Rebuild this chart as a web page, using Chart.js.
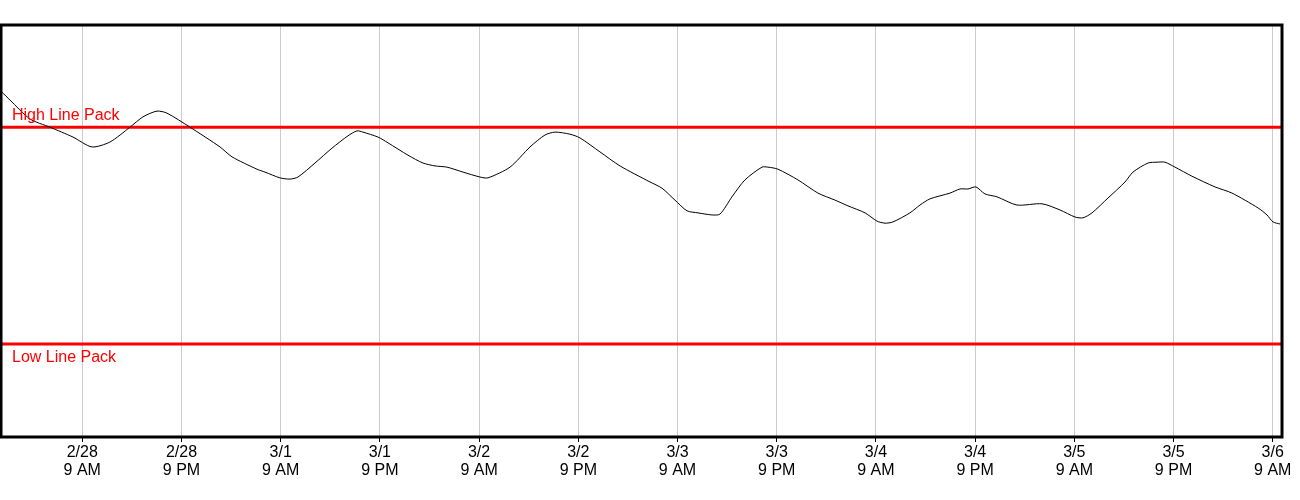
<!DOCTYPE html>
<html>
<head>
<meta charset="utf-8">
<script src="https://cdn.jsdelivr.net/npm/chart.js@4/dist/chart.umd.min.js"></script>
<style>
  html, body { margin: 0; padding: 0; background: #fff; }
  canvas { display: block; }
</style>
</head>
<body>
<canvas id="chart" width="1300" height="500"></canvas>
<script>
// hours since 2/28 00:00
const hours = [
  -0.71, 0.25, 2.67, 5.09, 7.88, 10.17, 12.35, 14.77, 16.34, 18.04,
  19.25, 22.03, 25.66, 27.11, 30.13, 31.10, 32.91, 34.12, 35.09, 37.15,
  39.20, 41.14, 42.23, 42.95, 44.77, 45.98, 48.40, 50.21, 51.66, 53.11,
  55.05, 57.11, 58.07, 60.74, 63.16, 64.97, 66.18, 67.99, 69.20, 71.62,
  74.04, 77.67, 79.12, 80.69, 82.15, 83.48, 85.17, 86.14, 87.59, 89.16,
  91.22, 91.95, 93.15, 95.57, 97.99, 100.05, 101.62, 103.68, 105.13, 106.10,
  107.06, 109.12, 110.33, 111.54, 113.96, 115.17, 116.14, 117.10, 118.19, 119.64,
  122.06, 125.09, 127.27, 129.08, 130.05, 131.14, 133.07, 135.13, 136.10, 137.91,
  139.00, 139.97, 141.18, 143.23, 146.02, 148.07, 151.22, 152.30, 153.03, 153.88
];
const linePack = [
  83.7, 81.8, 77.2, 75.2, 72.8, 70.4, 71.6, 75.2, 77.7, 79.1,
  78.6, 75.2, 70.4, 68.0, 65.0, 64.3, 62.9, 62.6, 63.1, 66.5,
  70.1, 73.1, 74.3, 74.0, 72.8, 71.4, 68.4, 66.5, 65.8, 65.5,
  64.3, 63.1, 62.9, 65.5, 70.4, 73.3, 74.0, 73.5, 72.6, 69.2,
  65.8, 61.9, 60.4, 57.5, 54.9, 54.4, 53.9, 54.1, 58.3, 62.4,
  65.5, 65.5, 65.0, 62.4, 59.2, 57.5, 56.1, 54.4, 52.4, 51.9,
  52.2, 54.4, 56.3, 57.8, 59.2, 60.2, 60.2, 60.7, 59.0, 58.3,
  56.3, 56.6, 55.1, 53.4, 53.2, 54.4, 58.0, 61.9, 64.3, 66.5,
  66.7, 66.7, 65.5, 63.3, 60.7, 59.2, 55.6, 53.9, 52.2, 51.7
];
const highLinePack = 75.2;
const lowLinePack = 22.6;

const tickHours = [9, 21, 33, 45, 57, 69, 81, 93, 105, 117, 129, 141, 153];
const tickLabels = [
  ['2/28', '9 AM'], ['2/28', '9 PM'], ['3/1', '9 AM'], ['3/1', '9 PM'],
  ['3/2', '9 AM'], ['3/2', '9 PM'], ['3/3', '9 AM'], ['3/3', '9 PM'],
  ['3/4', '9 AM'], ['3/4', '9 PM'], ['3/5', '9 AM'], ['3/5', '9 PM'],
  ['3/6', '9 AM']
];
const xMin = -0.83;
const xMax = 154.12;

const FONT = '"Liberation Sans", Arial, sans-serif';

const limitLabels = {
  id: 'limitLabels',
  afterDatasetsDraw(chart) {
    const { ctx, chartArea, scales } = chart;
    ctx.save();
    ctx.fillStyle = '#ff0000';
    ctx.font = '16px ' + FONT;
    ctx.textBaseline = 'alphabetic';
    ctx.fillText('High Line Pack', chartArea.left + 11, scales.y.getPixelForValue(highLinePack) - 7);
    ctx.fillText('Low Line Pack', chartArea.left + 11, scales.y.getPixelForValue(lowLinePack) + 18);
    ctx.restore();
  },
  afterDraw(chart) {
    const { ctx, chartArea } = chart;
    ctx.save();
    ctx.strokeStyle = '#000';
    ctx.lineWidth = 3;
    ctx.strokeRect(chartArea.left, chartArea.top, chartArea.right - chartArea.left, chartArea.bottom - chartArea.top);
    ctx.restore();
  }
};

new Chart(document.getElementById('chart'), {
  type: 'line',
  data: {
    datasets: [
      {
        data: hours.map((h, i) => ({ x: h, y: linePack[i] })),
        borderColor: '#000',
        borderWidth: 1,
        pointRadius: 0,
        tension: 0.25
      },
      {
        data: [{ x: xMin, y: highLinePack }, { x: xMax, y: highLinePack }],
        borderColor: '#ff0000',
        borderWidth: 3,
        pointRadius: 0
      },
      {
        data: [{ x: xMin, y: lowLinePack }, { x: xMax, y: lowLinePack }],
        borderColor: '#ff0000',
        borderWidth: 3,
        pointRadius: 0
      }
    ]
  },
  options: {
    responsive: false,
    animation: false,
    layout: { padding: { left: 1, top: 25, right: 18, bottom: 0 } },
    plugins: {
      legend: { display: false },
      tooltip: { enabled: false }
    },
    scales: {
      x: {
        type: 'linear',
        min: xMin,
        max: xMax,
        afterBuildTicks(scale) {
          scale.ticks = tickHours.map(v => ({ value: v }));
        },
        afterFit(scale) {
          scale.height = 63;
        },
        grid: {
          color: '#cccccc',
          lineWidth: 1,
          tickColor: '#000',
          tickLength: 5
        },
        border: { display: false },
        ticks: {
          autoSkip: false,
          maxRotation: 0,
          padding: 2,
          color: '#000',
          font: { family: FONT, size: 16, lineHeight: 1.1 },
          callback(value) {
            const i = tickHours.indexOf(value);
            return i >= 0 ? tickLabels[i] : '';
          }
        }
      },
      y: {
        display: false,
        min: 0,
        max: 100
      }
    }
  },
  plugins: [limitLabels]
});
</script>
</body>
</html>
